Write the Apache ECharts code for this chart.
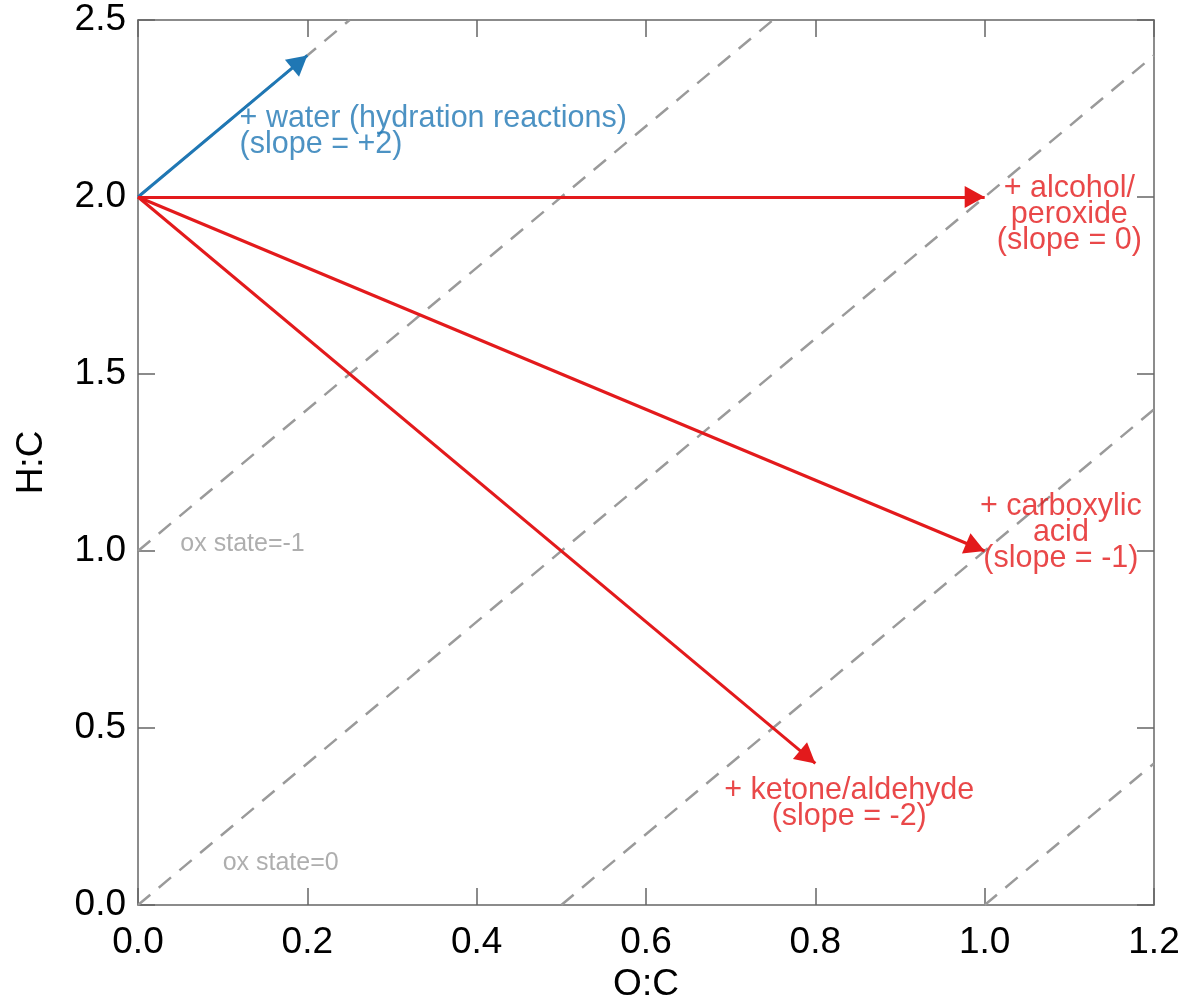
<!DOCTYPE html>
<html>
<head>
<meta charset="utf-8">
<title>Van Krevelen reaction vectors</title>
<script src="https://cdn.jsdelivr.net/npm/echarts@6/dist/echarts.min.js"></script>
<style>
  html, body { margin: 0; padding: 0; background: #fff; }
  #chart { width: 1185px; height: 999px; }
</style>
</head>
<body>
<div id="chart"></div>
<script>
// Axis ranges and tick labels
const xTicks = [0.0, 0.2, 0.4, 0.6, 0.8, 1.0, 1.2];
const yTicks = [0.0, 0.5, 1.0, 1.5, 2.0, 2.5];

// Reaction vectors starting from (O:C, H:C) = (0, 2)
const origin = [0, 2];
const waterEnd = [0.2, 2.4];
const redEnds = [
  [1.0, 2.0],   // alcohol / peroxide, slope 0
  [1.0, 1.0],   // carboxylic acid, slope -1
  [0.8, 0.4]    // ketone / aldehyde, slope -2
];

// Constant oxidation-state lines (slope +2), as endpoints inside the frame
const oxLines = [
  [[0.0, 2.0], [0.25, 2.5]],
  [[0.0, 1.0], [0.75, 2.5]],
  [[0.0, 0.0], [1.2, 2.4]],
  [[0.5, 0.0], [1.2, 1.4]],
  [[1.0, 0.0], [1.2, 0.4]]
];

// Annotation texts and anchor positions
const blueNotes = [
  { value: [0.12, 2.185], text: '+ water (hydration reactions)\n(slope = +2)', align: 'left' }
];
const redNotes = [
  { value: [1.10, 1.951], text: '+ alcohol/\nperoxide\n(slope = 0)', align: 'center' },
  { value: [1.09, 1.052], text: '+ carboxylic\nacid\n(slope = -1)', align: 'center' },
  { value: [0.84, 0.287], text: '+ ketone/aldehyde\n(slope = -2)', align: 'center' }
];
const grayNotes = [
  { value: [0.05, 1.02], text: 'ox state=-1' },
  { value: [0.10, 0.119], text: 'ox state=0' }
];

const FONT = "'Liberation Sans', Arial, Helvetica, sans-serif";
const BLUE = '#1f77b4';
const RED = '#e31a1c';
const GRAY = '#9a9a9a';
const AXIS = '#666666';

const xMin = xTicks[0], xMax = xTicks[xTicks.length - 1];
const yMin = yTicks[0], yMax = yTicks[yTicks.length - 1];

function frameAxis(pos, isX, showLabel) {
  const ax = {
    type: 'value',
    position: pos,
    min: isX ? xMin : yMin,
    max: isX ? xMax : yMax,
    interval: isX ? 0.2 : 0.5,
    axisLine: { show: true, onZero: false, lineStyle: { color: AXIS, width: 1.5 } },
    axisTick: { show: true, inside: true, length: 17, lineStyle: { color: AXIS, width: 1.5 } },
    splitLine: { show: false },
    axisLabel: {
      show: showLabel,
      color: '#000',
      fontSize: 37,
      fontFamily: FONT,
      margin: isX ? 19 : 12,
      formatter: v => v.toFixed(1)
    }
  };
  if (showLabel) {
    ax.name = isX ? 'O:C' : 'H:C';
    ax.nameLocation = 'middle';
    ax.nameGap = isX ? 61 : 88;
    ax.nameTextStyle = { color: '#000', fontSize: 37, fontFamily: FONT };
  }
  return ax;
}

// Filled arrowhead: the leading move-to stretches the symbol box so that
// the tip sits at the box centre, i.e. exactly on the vector's end value.
const HEAD = 'path://M5,0 M5,10 L10,20 L0,20 Z';
// [start symbol size, end symbol size as [width, box height]]
const HEAD_SIZE = [1, [22, 40]];

const series = [];

oxLines.forEach((seg, i) => {
  series.push({
    type: 'line',
    name: 'ox' + i,
    xAxisIndex: 0, yAxisIndex: 0,
    data: seg,
    showSymbol: false,
    silent: true,
    lineStyle: { color: GRAY, width: 2.5, type: [16, 11] },
    z: 1
  });
});

function arrowSeries(ends, color) {
  return {
    type: 'lines',
    coordinateSystem: 'cartesian2d',
    xAxisIndex: 0, yAxisIndex: 0,
    symbol: ['none', HEAD],
    symbolSize: HEAD_SIZE,
    lineStyle: { color: color, width: 3, opacity: 1 },
    data: ends.map(e => ({ coords: [origin, e] })),
    silent: true,
    z: 3
  };
}

series.push(arrowSeries([waterEnd], BLUE));
series.push(arrowSeries(redEnds, RED));

function noteSeries(notes, color, size, lh) {
  return {
    type: 'scatter',
    xAxisIndex: 0, yAxisIndex: 0,
    symbolSize: 0,
    silent: true,
    z: 4,
    data: notes.map(n => ({
      value: n.value,
      label: {
        show: true,
        position: 'inside',
        formatter: n.text,
        align: n.align || 'left',
        verticalAlign: 'middle',
        color: color,
        textBorderWidth: 0,
        textBorderColor: 'transparent',
        fontSize: size,
        lineHeight: lh,
        fontFamily: FONT
      }
    }))
  };
}

series.push(noteSeries(blueNotes, BLUE, 30.5, 26));
series.push(noteSeries(redNotes, RED, 30.5, 26));
series.push(noteSeries(grayNotes, GRAY, 25, 28));

const chart = echarts.init(document.getElementById('chart'), null, { renderer: 'canvas' });
chart.setOption({
  animation: false,
  backgroundColor: '#fff',
  grid: {
    left: 138, top: 20, right: 31, bottom: 94,
    containLabel: false,
    outerBoundsMode: 'none'
  },
  xAxis: [frameAxis('bottom', true, true), frameAxis('top', true, false)],
  yAxis: [frameAxis('left', false, true), frameAxis('right', false, false)],
  series: series
});
</script>
</body>
</html>
